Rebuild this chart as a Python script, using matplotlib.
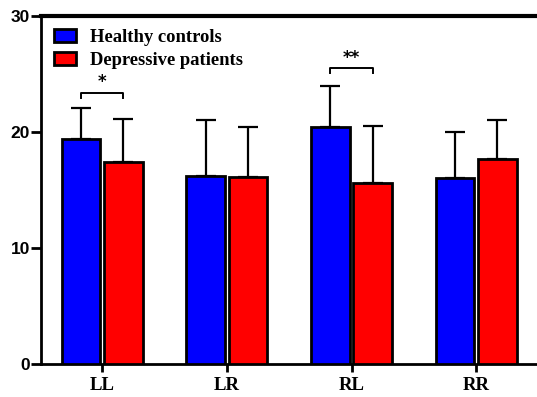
import numpy as np
import matplotlib.pyplot as plt

groups = ['LL', 'LR', 'RL', 'RR']
healthy = [19.4, 16.2, 20.4, 16.0]
healthy_sd = [2.7, 4.8, 3.6, 4.0]
patients = [17.4, 16.1, 15.6, 17.7]
patients_sd = [3.7, 4.3, 4.9, 3.3]
sig_groups = [0, 2]
sig_marks = ['*', '**']
sig_heights = [23.4, 25.5]

fig = plt.figure(figsize=(5.37, 3.97), dpi=100)
ax = fig.add_axes([0.0764, 0.0824, 0.922, 0.8776])

x = np.arange(len(groups))
w = 0.31
off = 0.17

ax.bar(x - off, healthy, w, color='#0000ff', edgecolor='black', linewidth=2,
       label='Healthy controls', zorder=3)
ax.bar(x + off, patients, w, color='#ff0000', edgecolor='black', linewidth=2,
       label='Depressive patients', zorder=3)

# upper error bars only
ax.errorbar(x - off, healthy, yerr=[np.zeros(4), healthy_sd], fmt='none',
            ecolor='black', elinewidth=1.6, capsize=7.5, capthick=1.6, zorder=2)
ax.errorbar(x + off, patients, yerr=[np.zeros(4), patients_sd], fmt='none',
            ecolor='black', elinewidth=1.6, capsize=7.5, capthick=1.6, zorder=2)

# significance brackets
for g, m, h in zip(sig_groups, sig_marks, sig_heights):
    x0, x1 = g - off, g + off
    ax.plot([x0, x0, x1, x1], [h - 0.45, h, h, h - 0.45], color='black', lw=1.4)
    ax.text(g, h + 0.1, m, ha='center', va='bottom', fontsize=12,
            fontweight='bold', family='DejaVu Sans')

ax.set_xlim(-0.49, 3.48)
ax.set_ylim(0, 30)
ax.set_yticks([0, 10, 20, 30])
ax.set_xticks(x)
ax.set_xticklabels(groups, family='Liberation Serif', fontweight='bold', fontsize=13.5)
for lab in ax.get_yticklabels():
    lab.set_fontweight('bold')
    lab.set_fontsize(12.5)
    lab.set_family('Liberation Sans')

ax.spines['right'].set_visible(False)
ax.spines['top'].set_linewidth(3)
ax.spines['left'].set_linewidth(2)
ax.spines['bottom'].set_linewidth(2)
ax.tick_params(axis='y', length=7, width=2, pad=1)
ax.tick_params(axis='x', length=6, width=2, pad=3.5)

ax.legend(loc='upper left', frameon=False, handlelength=1.2, handleheight=0.7,
          borderaxespad=0.3, handletextpad=0.75, labelspacing=0.35,
          prop={'family': 'Liberation Serif', 'weight': 'bold', 'size': 13.4})

fig.savefig('out.png', dpi=100)
